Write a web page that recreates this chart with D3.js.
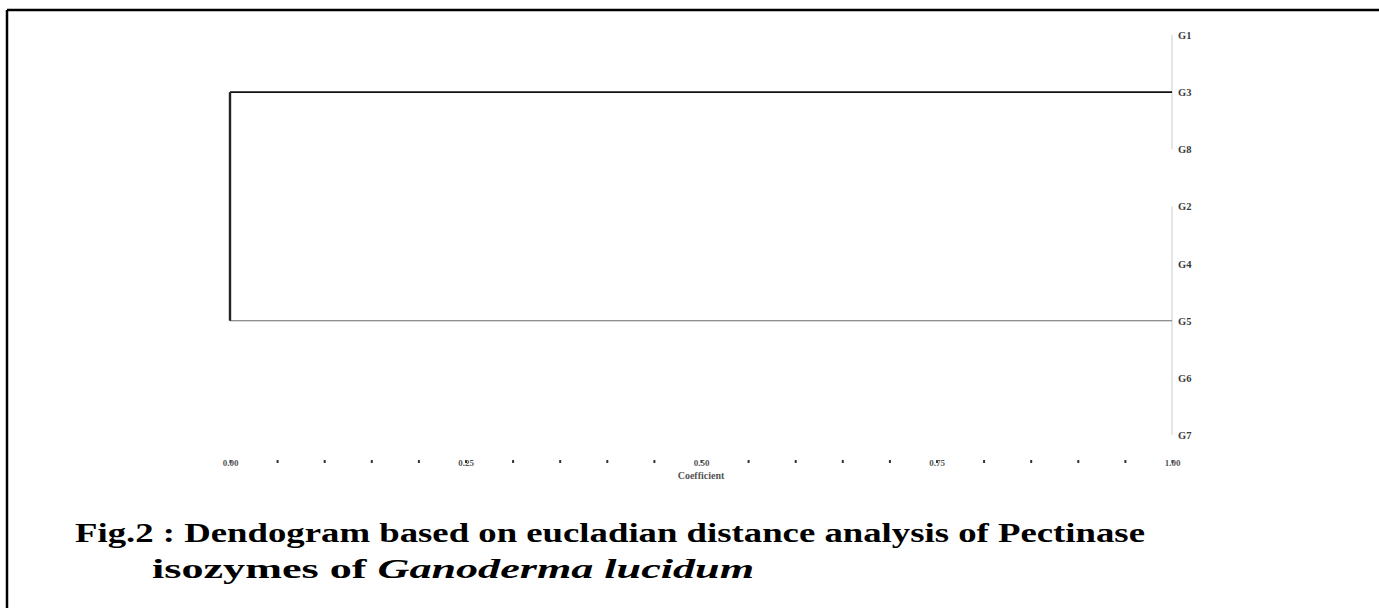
<!DOCTYPE html>
<html><head><meta charset="utf-8">
<script src="https://cdn.jsdelivr.net/npm/d3@7"></script>
<style>
html,body{margin:0;padding:0;background:#fff;}
svg{display:block;}
</style></head>
<body>
<svg id="chart" width="1379" height="608"></svg>
<script>
// ---- data ----
const leaves = ["G1","G3","G8","G2","G4","G5","G6","G7"];
const clusterA = ["G1","G3","G8"];
const clusterB = ["G2","G4","G5","G6","G7"];
const clusterLevel = 1.00;   // similarity at which each group's members join
const rootLevel = 0.00;      // similarity at which the two groups join
const tickValues = d3.range(0, 1.0001, 0.05).map(v => +v.toFixed(2));
const labelTicks = [0.00, 0.25, 0.50, 0.75, 1.00];
const axisTitle = "Coefficient";
const titleLine1 = "Fig.2 : Dendogram based on eucladian distance analysis of Pectinase";
const titleLine2a = "isozymes of ";
const titleLine2b = "Ganoderma lucidum";

const svg = d3.select("#chart");

// frame
svg.append("line").attr("x1",7).attr("x2",1379).attr("y1",10).attr("y2",10).attr("stroke","#000").attr("stroke-width",2.5);
svg.append("line").attr("x1",7).attr("x2",7).attr("y1",10).attr("y2",608).attr("stroke","#000").attr("stroke-width",2.5);

const x = d3.scaleLinear().domain([0,1]).range([230,1172]);
const y = d3.scalePoint().domain(leaves).range([35,435]);

const treeData = {name:"root", level:rootLevel, children:[
  {name:"A", level:clusterLevel, children: clusterA.map(n=>({name:n, level:clusterLevel}))},
  {name:"B", level:clusterLevel, children: clusterB.map(n=>({name:n, level:clusterLevel}))}
]};
const root = d3.hierarchy(treeData);
root.eachAfter(n => {
  if (!n.children) n.py = y(n.data.name);
  else {
    const ls = n.leaves();
    n.py = y(ls[Math.floor(ls.length/2)].data.name);
    n.y0 = y(ls[0].data.name); n.y1 = y(ls[ls.length-1].data.name);
  }
  n.px = x(n.data.level);
});

root.children.forEach(c => {
  svg.append("line").attr("x1",c.px).attr("x2",c.px).attr("y1",c.y0).attr("y2",c.y1)
    .attr("stroke","#d4d4d4").attr("stroke-width",1.2);
});
root.children.forEach((c,i) => {
  svg.append("line").attr("x1",root.px).attr("x2",c.px).attr("y1",c.py).attr("y2",c.py)
    .attr("stroke", i===0 ? "#111" : "#6a6a6a").attr("stroke-width", i===0 ? 1.6 : 1.1);
});
svg.append("line").attr("x1",root.px).attr("x2",root.px)
  .attr("y1",root.children[0].py).attr("y2",root.children[1].py)
  .attr("stroke","#222").attr("stroke-width",2.4);

// leaf labels
svg.selectAll("text.leaf").data(leaves).join("text").attr("class","leaf")
  .attr("x", x(1)+6).attr("y", d=>y(d)+4)
  .attr("font-family","Liberation Serif, serif").attr("font-size",10.5).attr("font-weight","bold")
  .attr("fill","#3a3a3a").text(d=>d);

// axis
const axis = d3.axisBottom(x).tickValues(tickValues).tickSize(3)
  .tickFormat(d => labelTicks.some(t=>Math.abs(t-d)<1e-9) ? d3.format(".2f")(d) : "");
const g = svg.append("g").attr("transform","translate(0,460)").call(axis);
g.select(".domain").remove();
g.selectAll(".tick line").attr("stroke","#333").attr("stroke-width",2);
g.selectAll(".tick text").attr("font-family","Liberation Serif, serif").attr("font-size",9)
  .attr("font-weight","bold").attr("fill","#555").attr("dy","-0.05em");
svg.append("text").attr("x",x(0.5)).attr("y",479).attr("text-anchor","middle")
  .attr("font-family","Liberation Serif, serif").attr("font-size",10).attr("font-weight","bold")
  .attr("fill","#555").text(axisTitle);

// caption
const cap = svg.append("g").attr("font-family","Liberation Serif, Times New Roman, serif")
  .attr("font-weight","bold").attr("font-size",27).attr("fill","#000");
cap.append("text").attr("x",75).attr("y",542).attr("textLength",1070).attr("lengthAdjust","spacingAndGlyphs").text(titleLine1);
const t2 = cap.append("text").attr("x",152).attr("y",578).attr("textLength",602).attr("lengthAdjust","spacingAndGlyphs");
t2.append("tspan").text(titleLine2a);
t2.append("tspan").attr("font-style","italic").text(titleLine2b);
</script>
</body></html>
